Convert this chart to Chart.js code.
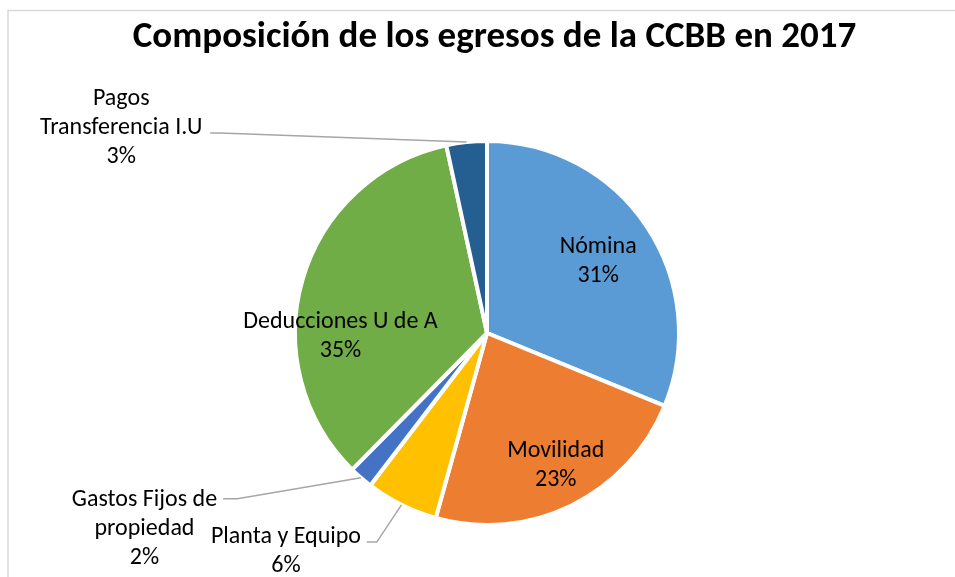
<!DOCTYPE html>
<html>
<head>
<meta charset="utf-8">
<script src="https://cdn.jsdelivr.net/npm/chart.js@4"></script>
<style>
html,body{margin:0;padding:0;background:#fff;}
#wrap{position:absolute;left:0;top:0;width:955px;height:577px;}
</style>
</head>
<body>
<div id="wrap"><canvas id="c" width="955" height="577"></canvas></div>
<script>
const titleText = 'Composición de los egresos de la CCBB en 2017';
const categories = ['Nómina', 'Movilidad', 'Planta y Equipo', 'Gastos Fijos de propiedad', 'Deducciones U de A', 'Pagos Transferencia I.U'];
const values = [31.2, 23.1, 6.1, 2.0, 34.2, 3.4];
const percentLabels = ['31%', '23%', '6%', '2%', '35%', '3%'];
const labelLines = [['Nómina'], ['Movilidad'], ['Planta y Equipo'], ['Gastos Fijos de', 'propiedad'], ['Deducciones U de A'], ['Pagos', 'Transferencia I.U']];
const colors = ['#5B9BD5', '#ED7D31', '#FFC000', '#4472C4', '#70AD47', '#255E91'];

// label placement (style): position relative to pie center, in units of radius
const labelPlace = [
  {x: 0.579, y: -0.374},
  {x: 0.358, y: 0.689},
  {x: -1.047, y: 1.137, leader: [[-0.626, 1.089], [-0.574, 1.089]]},
  {x: -1.784, y: 1.021, leader: [[-1.374, 0.863], [-1.300, 0.863]]},
  {x: -0.763, y: 0.016},
  {x: -1.905, y: -1.068, leader: [[-1.442, -1.042], [-1.390, -1.042]]}
];

const FONT = 'Carlito, Lato, sans-serif';
const TITLE_SIZE = 37;
const LABEL_SIZE = 24;

const framePlugin = {
  id: 'frame',
  beforeDraw(chart) {
    const ctx = chart.ctx;
    ctx.save();
    ctx.fillStyle = '#fff';
    ctx.fillRect(0, 0, chart.width, chart.height);
    ctx.strokeStyle = '#d9d9d9';
    ctx.lineWidth = 1.5;
    ctx.strokeRect(8, 10.5, 1200, 1200);
    ctx.fillStyle = '#000';
    ctx.font = 'bold ' + TITLE_SIZE + 'px ' + FONT;
    ctx.textAlign = 'center';
    ctx.textBaseline = 'middle';
    ctx.fillText(titleText, chart.width / 2 + 17, 38);
    ctx.restore();
  }
};

const labelPlugin = {
  id: 'pieLabels',
  afterDatasetsDraw(chart) {
    const ctx = chart.ctx;
    const meta = chart.getDatasetMeta(0);
    const first = meta.data[0];
    const cx = first.x, cy = first.y;
    const R = first.outerRadius;
    const lh = 29;
    ctx.save();
    meta.data.forEach((arc, i) => {
      const p = labelPlace[i];
      const lines = labelLines[i].concat([percentLabels[i]]);
      const bx = cx + p.x * R, by = cy + p.y * R;
      if (p.leader) {
        const mid = (arc.startAngle + arc.endAngle) / 2;
        const ex = cx + Math.cos(mid) * R, ey = cy + Math.sin(mid) * R;
        ctx.strokeStyle = '#a6a6a6';
        ctx.lineWidth = 1.5;
        ctx.beginPath();
        ctx.moveTo(cx + p.leader[0][0] * R, cy + p.leader[0][1] * R);
        ctx.lineTo(cx + p.leader[1][0] * R, cy + p.leader[1][1] * R);
        ctx.lineTo(ex, ey);
        ctx.stroke();
      }
      ctx.fillStyle = '#000';
      ctx.font = LABEL_SIZE + 'px ' + FONT;
      ctx.textAlign = 'center';
      ctx.textBaseline = 'middle';
      const n = lines.length;
      lines.forEach((t, k) => {
        ctx.fillText(t, bx, by + (k - (n - 1) / 2) * lh);
      });
    });
    ctx.restore();
  }
};

new Chart(document.getElementById('c'), {
  type: 'pie',
  data: {
    labels: categories,
    datasets: [{
      data: values,
      backgroundColor: colors,
      borderColor: '#ffffff',
      borderWidth: 4
    }]
  },
  options: {
    responsive: false,
    animation: false,
    rotation: 0,
    layout: {padding: {left: 19, right: 0, top: 139, bottom: 50}},
    plugins: {
      legend: {display: false},
      tooltip: {enabled: false},
      title: {display: false}
    }
  },
  plugins: [framePlugin, labelPlugin]
});
</script>
</body>
</html>
